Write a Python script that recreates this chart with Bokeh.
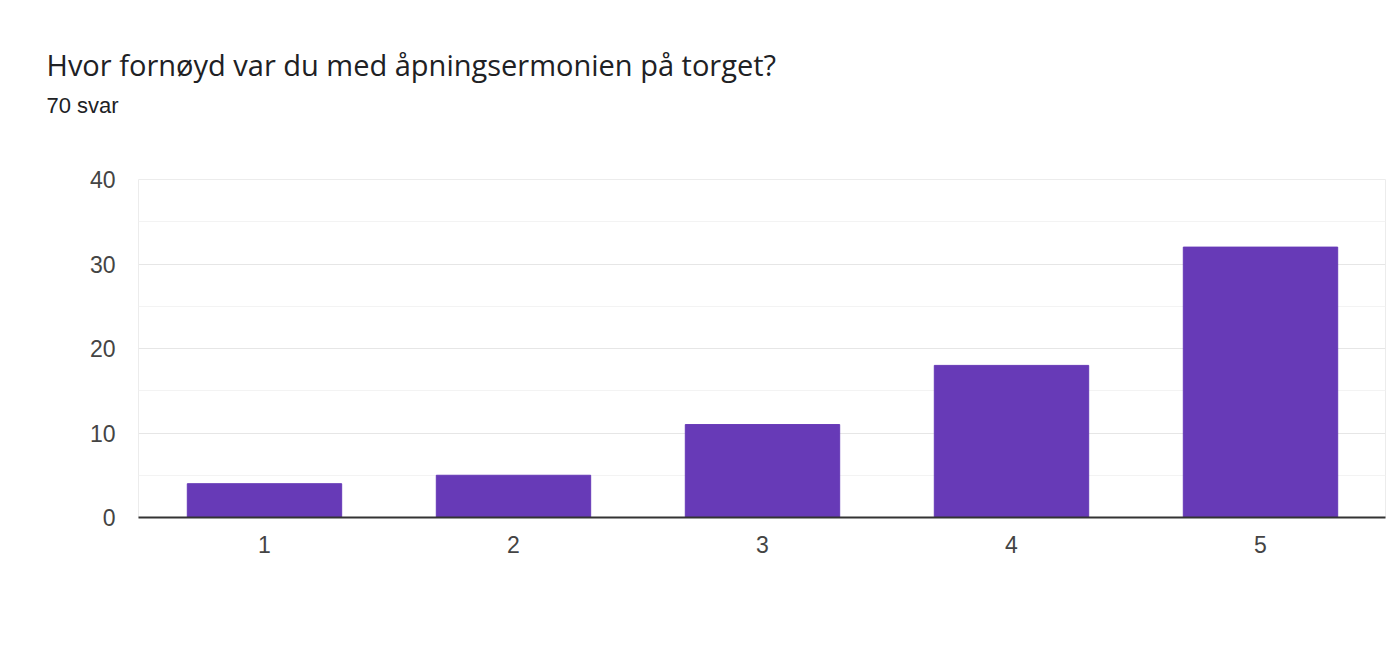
from bokeh.plotting import figure
from bokeh.models import Title, FixedTicker, Range1d
from bokeh.embed import file_html
from bokeh.resources import INLINE

categories = [1, 2, 3, 4, 5]
counts = [4, 5, 11, 18, 32]
y_ticks = [0, 10, 20, 30, 40]
title_text = "Hvor fornøyd var du med åpningsermonien på torget?"
subtitle_text = "70 svar"

p = figure(width=1386, height=659, output_backend="svg", toolbar_location=None,
           x_range=Range1d(0.494, 5.502), y_range=Range1d(0, 40),
           min_border_left=138, min_border_right=1, min_border_top=179, min_border_bottom=142)

p.vbar(x=categories, top=counts, width=0.62, fill_color="#673ab7", line_color="#673ab7")

p.xaxis.ticker = FixedTicker(ticks=categories)
p.yaxis.ticker = FixedTicker(ticks=y_ticks, minor_ticks=[5, 15, 25, 35])
for ax in (p.xaxis[0], p.yaxis[0]):
    ax.major_label_text_font = "Liberation Sans"
    ax.major_label_text_font_size = "23px"
    ax.major_label_text_color = "#444444"
    ax.major_tick_line_color = None
    ax.minor_tick_line_color = None
p.yaxis.axis_line_color = None
p.xaxis.axis_line_color = "#333333"
p.xaxis.axis_line_width = 2
p.xaxis.major_label_standoff = 12
p.yaxis.major_label_standoff = 17

p.xgrid.grid_line_color = None
p.ygrid.grid_line_color = "#e6e6e6"
p.ygrid.minor_grid_line_color = "#f3f3f3"
p.outline_line_color = "#ececec"
p.outline_line_width = 1

# spacer between frame and subtitle
spacer = Title(text=" ", text_font="Liberation Sans", text_font_size="20px", standoff=35)
p.add_layout(spacer, "above")
sub = Title(text=subtitle_text, text_font="Liberation Sans", text_font_size="22px",
            text_color="#202124", text_font_style="normal", align="left", offset=-92, standoff=6)
p.add_layout(sub, "above")
ttl = Title(text=title_text, text_font="Open Sans", text_font_size="29px",
            text_color="#202124", text_font_style="normal", align="left", offset=-92, standoff=7)
p.add_layout(ttl, "above")

open("out.html", "w").write(file_html(p, INLINE))
